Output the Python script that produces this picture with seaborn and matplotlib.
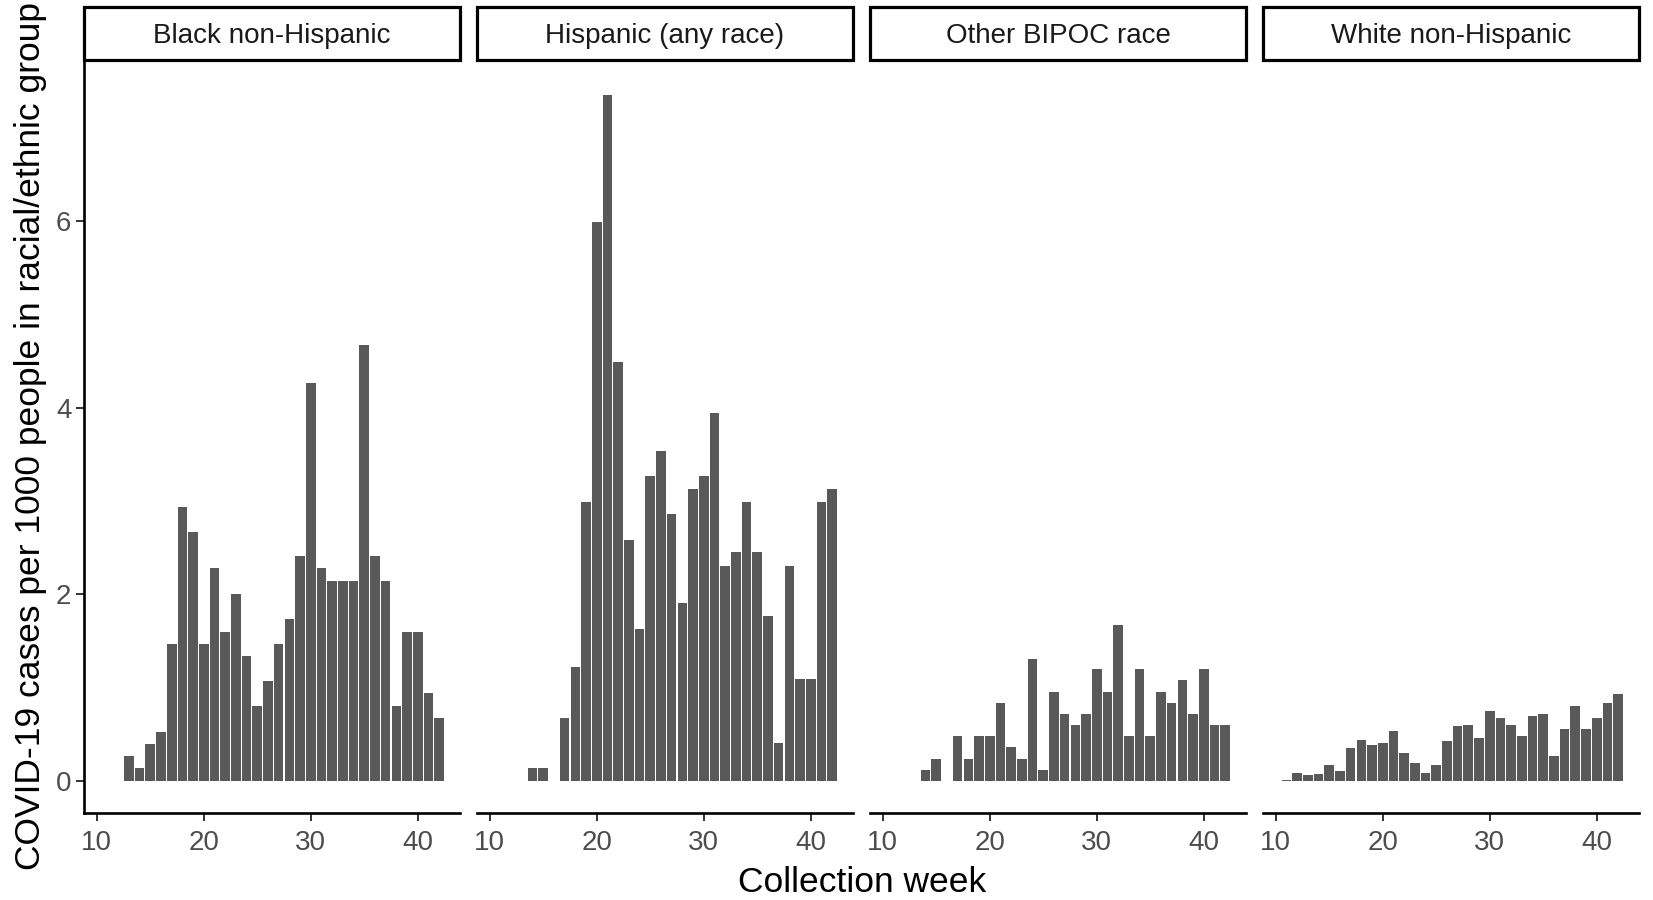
import pandas as pd
import numpy as np
import matplotlib
matplotlib.use("Agg")
import matplotlib.pyplot as plt
import seaborn as sns
from matplotlib.patches import Rectangle

# groups (facet order)
groups = ["Black non-Hispanic", "Hispanic (any race)", "Other BIPOC race", "White non-Hispanic"]

# weeks and rates per group
black_weeks = list(range(13, 43))
black_rate = [0.27, 0.14, 0.40, 0.53, 1.47, 2.94, 2.67, 1.47, 2.28, 1.60,
              2.00, 1.34, 0.80, 1.07, 1.47, 1.74, 2.41, 4.27, 2.28, 2.14,
              2.14, 2.14, 4.67, 2.41, 2.14, 0.80, 1.60, 1.60, 0.94, 0.67]

hisp_weeks = [14, 15] + list(range(17, 43))
hisp_rate = [0.14, 0.14, 0.68, 1.22, 2.99, 5.99, 7.35, 4.49, 2.58, 1.63,
             3.27, 3.54, 2.86, 1.91, 3.13, 3.27, 3.95, 2.31, 2.45, 2.99,
             2.45, 1.77, 0.41, 2.31, 1.09, 1.09, 2.99, 3.13]

other_weeks = [14, 15] + list(range(17, 43))
other_rate = [0.12, 0.24, 0.48, 0.24, 0.48, 0.48, 0.84, 0.36, 0.24, 1.31,
              0.12, 0.95, 0.72, 0.60, 0.72, 1.20, 0.95, 1.67, 0.48, 1.20,
              0.48, 0.95, 0.84, 1.08, 0.72, 1.20, 0.60, 0.60]

white_weeks = list(range(11, 43))
white_rate = [0.01, 0.09, 0.06, 0.075, 0.17, 0.11, 0.35, 0.44, 0.39, 0.41,
              0.54, 0.30, 0.19, 0.09, 0.17, 0.43, 0.59, 0.60, 0.46, 0.75,
              0.67, 0.60, 0.48, 0.70, 0.72, 0.27, 0.56, 0.80, 0.56, 0.67,
              0.84, 0.93]

frames = []
for grp, wk, rt in zip(groups,
                       [black_weeks, hisp_weeks, other_weeks, white_weeks],
                       [black_rate, hisp_rate, other_rate, white_rate]):
    frames.append(pd.DataFrame({"group": grp, "week": wk, "rate": rt}))
df = pd.concat(frames, ignore_index=True)

sns.set_style("white")
plt.rcParams['font.family'] = ['Liberation Sans', 'DejaVu Sans']

g = sns.FacetGrid(df, col="group", col_order=groups, sharey=True, sharex=True,
                  height=4, aspect=1)
g.map_dataframe(sns.histplot, x="week", weights="rate", discrete=True,
                shrink=0.9, color="#595959", alpha=1, linewidth=0)
fig = g.figure
fig.set_size_inches(16.53, 9)
fig.subplots_adjust(left=0.0508, right=0.9915, top=0.9333, bottom=0.0967, wspace=0.045)

for i, (ax, grp) in enumerate(zip(g.axes.flat, groups)):
    ax.set_title("")
    ax.set_xlabel("")
    ax.set_ylabel("")
    ax.set_xlim(8.8, 43.95)
    ax.set_ylim(-0.343, 7.73)
    ax.set_xticks([10, 20, 30, 40])
    ax.set_yticks([0, 2, 4, 6])
    for s in ["top", "right"]:
        ax.spines[s].set_visible(False)
    ax.spines["bottom"].set_linewidth(1.9)
    ax.spines["bottom"].set_color("black")
    ax.tick_params(axis="x", length=6, width=1.4, color="#333333",
                   labelsize=20, labelcolor="#4D4D4D", pad=6, bottom=True)
    if i == 0:
        ax.spines["left"].set_linewidth(1.9)
        ax.spines["left"].set_color("black")
        ax.tick_params(axis="y", length=6, width=1.4, color="#333333",
                       labelsize=20, labelcolor="#4D4D4D", pad=3, left=True)
    else:
        ax.spines["left"].set_visible(False)
        ax.tick_params(axis="y", left=False, labelleft=False)
    # strip
    ax.add_patch(Rectangle((0, 1.0), 1, 0.071, transform=ax.transAxes, clip_on=False,
                           facecolor="white", edgecolor="black", linewidth=2.3))
    ax.text(0.5, 1.0355, grp, transform=ax.transAxes, ha="center", va="center_baseline",
            fontsize=20, color="#1A1A1A")

fig.text(0.0182, 0.515, "COVID-19 cases per 1000 people in racial/ethnic group",
         rotation=90, ha="center", va="center", fontsize=25.5, color="black")
fig.text(0.5215, 0.019, "Collection week", ha="center", va="center",
         fontsize=25.5, color="black")

fig.savefig("out.png", dpi=100)
